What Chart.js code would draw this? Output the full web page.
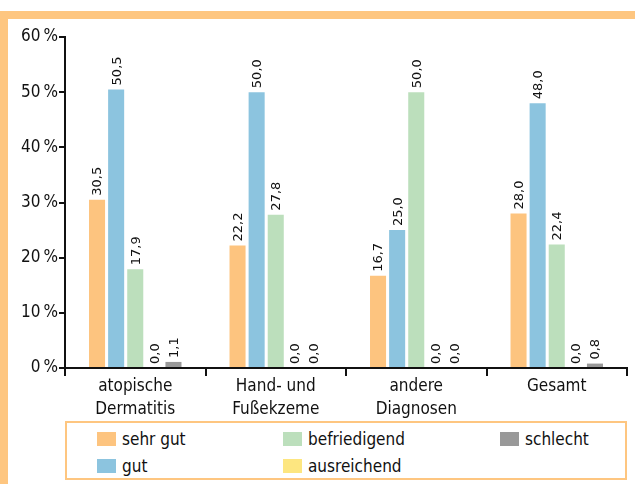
<!DOCTYPE html>
<html>
<head>
<meta charset="utf-8">
<script src="https://cdn.jsdelivr.net/npm/chart.js@4"></script>
<style>
  body { margin: 0; background: #fff; }
  #wrap { position: relative; width: 635px; height: 484px; overflow: hidden; }
  #frame { position: absolute; left: 0; top: 11px; width: 700px; height: 500px;
           border-top: 8px solid #fec680; border-left: 8px solid #fec680; box-sizing: border-box; }
  #chartbox { position: absolute; left: 0; top: 0; width: 635px; height: 420px; }
  #legend { position: absolute; left: 65px; top: 421px; width: 562px; height: 59px;
            border: 2px solid #fec680; box-sizing: border-box;
            font-family: "Liberation Sans Narrow", "DejaVu Sans Condensed", sans-serif; font-size: 17px; color: #111; }
  .item { position: absolute; height: 20px; line-height: 20px; white-space: nowrap; }
  .sw { display: inline-block; width: 19px; height: 14px; vertical-align: -1px; margin-right: 6px; }
</style>
</head>
<body>
<div id="wrap">
  <div id="frame"></div>
  <div id="chartbox"><canvas id="mycanvas" width="635" height="420"></canvas></div>
  <div id="legend"></div>
</div>
<script>
var categories = [["atopische", "Dermatitis"], ["Hand- und", "Fußekzeme"], ["andere", "Diagnosen"], ["Gesamt"]];
var seriesNames = ["sehr gut", "gut", "befriedigend", "ausreichend", "schlecht"];
var sehrGut = [30.5, 22.2, 16.7, 28.0];
var gut = [50.5, 50.0, 25.0, 48.0];
var befriedigend = [17.9, 27.8, 50.0, 22.4];
var ausreichend = [0.0, 0.0, 0.0, 0.0];
var schlecht = [1.1, 0.0, 0.0, 0.8];
var colors = ["#fdc47f", "#8cc4df", "#bcdfbc", "#fde680", "#999999"];
var yTicks = [0, 10, 20, 30, 40, 50, 60];

var fontFam = '"Liberation Sans Narrow", "DejaVu Sans Condensed", sans-serif';
var allData = [sehrGut, gut, befriedigend, ausreichend, schlecht];

var datasets = [];
for (var i = 0; i < seriesNames.length; i++) {
	datasets.push({
		label: seriesNames[i],
		data: allData[i],
		backgroundColor: colors[i],
		borderWidth: 0,
		categoryPercentage: 0.68,
		barPercentage: 0.84
	});
}

// value labels, rotated, above each bar
var valueLabels = {
	id: 'valueLabels',
	afterDatasetsDraw: function(chart) {
		var ctx = chart.ctx;
		ctx.save();
		ctx.font = '13px "DejaVu Sans", sans-serif';
		ctx.fillStyle = '#111';
		chart.data.datasets.forEach(function(ds, di) {
			var meta = chart.getDatasetMeta(di);
			meta.data.forEach(function(bar, j) {
				var txt = ds.data[j].toFixed(1).replace('.', ',');
				ctx.save();
				ctx.translate(bar.x, bar.y - 4);
				ctx.rotate(-Math.PI / 2);
				ctx.textAlign = 'left';
				ctx.textBaseline = 'middle';
				ctx.fillText(txt, 0, 1);
				ctx.restore();
			});
		});
		ctx.restore();
	}
};

var ctx = document.getElementById('mycanvas');
var chart = new Chart(ctx, {
	type: 'bar',
	data: { labels: categories, datasets: datasets },
	options: {
		responsive: false,
		animation: false,
		layout: { padding: { top: 37, right: 8, left: 0, bottom: 0 } },
		plugins: { legend: { display: false }, tooltip: { enabled: false } },
		scales: {
			x: {
				grid: { display: true, drawOnChartArea: false, offset: true, color: '#111', lineWidth: 2, tickLength: 8 },
				border: { display: true, color: '#111', width: 2 },
				ticks: { color: '#111', font: { family: fontFam, size: 17, lineHeight: 1.3 }, padding: 0, maxRotation: 0, autoSkip: false },
				afterFit: function(s) { s.height = 52; }
			},
			y: {
				min: 0, max: 60,
				afterBuildTicks: function(s) { s.ticks = yTicks.map(function(v) { return { value: v }; }); },
				grid: { display: true, drawOnChartArea: false, color: '#111', lineWidth: 2, tickLength: 6 },
				border: { display: true, color: '#111', width: 2 },
				ticks: { color: '#111', font: { family: fontFam, size: 17 }, padding: 1,
					callback: function(v) { return v + '\u2009%'; } },
				afterFit: function(s) { s.width = 65; }
			}
		}
	},
	plugins: [valueLabels]
});

// legend, filled column by column like the original
var legendPos = [[30, 6], [30, 33], [216, 6], [216, 33], [433, 6]];
var legendOrder = [0, 1, 2, 3, 4];
var lg = document.getElementById('legend');
legendOrder.forEach(function(k, n) {
	var d = document.createElement('div');
	d.className = 'item';
	d.style.left = legendPos[n][0] + 'px';
	d.style.top = legendPos[n][1] + 'px';
	d.innerHTML = '<span class="sw" style="background:' + colors[k] + '"></span>' + seriesNames[k];
	lg.appendChild(d);
});
</script>
</body>
</html>
